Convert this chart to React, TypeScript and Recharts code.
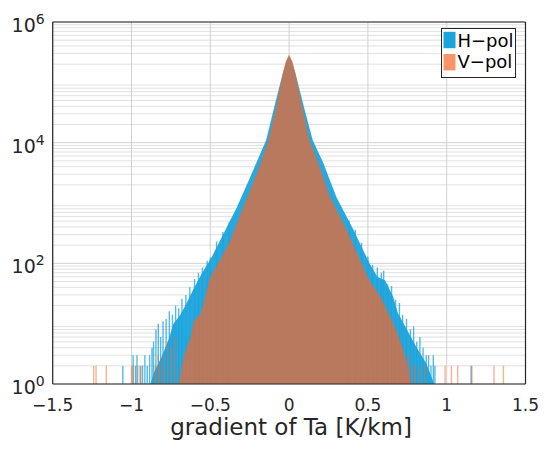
import React from 'react';
import { ComposedChart, Area, Line, XAxis, YAxis, CartesianGrid, Legend } from 'recharts';

const FONT = '"DejaVu Sans", "Liberation Sans", sans-serif';
const AXIS_COLOR = '#262626';
const H_COLOR = '#1BA3DC';
const V_COLOR = '#F6652A';
const V_SWATCH = '#F9936A';

// axis ticks
const xTicks = [-1.5, -1, -0.5, 0, 0.5, 1, 1.5];
const xTickLabels = ['\u22121.5', '\u22121', '\u22120.5', '0', '0.5', '1', '1.5'];
const yTicks = [1, 100, 10000, 1000000];
const yTickExponents = ['0', '2', '4', '6'];
const minorMantissas = [2, 3, 4, 5, 6, 7, 8, 9];
const minorDecades = [1, 10, 100, 1000, 10000, 100000];
const minorYTicks = minorDecades.flatMap((d) => minorMantissas.map((m) => m * d));

const seriesNames = ['H\u2212pol', 'V\u2212pol'];

// H-pol histogram envelope (bin centre, count)
const hBinCenters = [
  -0.88, -0.86, -0.81, -0.765, -0.734, -0.69, -0.65, -0.61, -0.554, -0.49, -0.438, -0.33, -0.237, -0.146,
  -0.093, -0.04, -0.02, 0, 0.02, 0.04, 0.093, 0.15, 0.218, 0.3, 0.41, 0.51, 0.56, 0.61, 0.66, 0.69, 0.75,
  0.81, 0.87, 0.9, 0.92,
];
const hCounts = [
  1, 1.5, 2.8, 5.4, 10, 14, 22, 36, 68, 129, 240, 870, 3090, 11000, 40000, 141000, 215000, 275000, 215000,
  141000, 40000, 11000, 4570, 1260, 355, 100, 60, 52, 28, 15, 7.8, 4, 2.2, 1.4, 1,
];

// V-pol histogram envelope (bin centre, count)
const vBinCenters = [
  -0.7, -0.69, -0.67, -0.625, -0.605, -0.56, -0.53, -0.5, -0.427, -0.374, -0.29, -0.205, -0.131, -0.082,
  -0.04, -0.02, 0, 0.02, 0.04, 0.082, 0.13, 0.186, 0.26, 0.366, 0.46, 0.51, 0.58, 0.63, 0.68, 0.72, 0.75,
  0.77,
];
const vCounts = [
  1, 1.5, 2.8, 6, 11, 15, 30, 60, 129, 240, 870, 3090, 11000, 40000, 141000, 225000, 290000, 225000, 141000,
  40000, 11000, 4570, 1260, 355, 100, 52, 28, 15, 7.8, 4, 2.2, 1,
];

// isolated / ragged tail bins (bin centre, count)
const hTailX = [
  -1.055, -0.99, -0.975, -0.965, -0.945, -0.93, -0.915, -0.9, -0.885, -0.87, -0.86, -0.845, -0.83, -0.815,
  -0.8, -0.78, -0.76, -0.74, -0.72, -0.7, -0.68, -0.655, -0.63, -0.6, -0.575, -0.55, -0.52, -0.5, -0.46, -0.42,
  -0.38, 0.38, 0.42, 0.46, 0.5, 0.53, 0.56, 0.585, 0.6, 0.625, 0.65, 0.675, 0.7, 0.72, 0.745, 0.77, 0.79,
  0.81, 0.83, 0.85, 0.87, 0.885, 0.9, 0.915, 0.925, 1.155,
];
const hTailCounts = [
  2, 3, 2, 3, 2, 2, 3, 2, 3, 4, 5, 8, 10, 6, 11, 12, 16, 14, 20, 18, 26, 30, 40, 55, 70, 85, 110, 125, 230,
  330, 480, 520, 360, 220, 130, 95, 85, 70, 75, 45, 42, 25, 22, 14, 12, 8, 9, 5, 6, 4, 3, 3, 2, 3, 2, 2,
];
const vTailX = [
  -1.24, -1.225, -1.16, -1.0, -0.99, -0.96, -0.94, -0.85, -0.83, -0.82, -0.8, -0.77, -0.745, -0.72, 0.76,
  0.78, 0.8, 0.83, 0.86, 0.99, 1.03, 1.07, 1.16, 1.3, 1.36,
];
const vTailCounts = [2, 2, 2, 2, 2, 2, 2, 2, 3, 2, 3, 5, 4, 6, 3, 2, 2, 2, 2, 2, 2, 2, 2, 2, 2];

const HIST_BASE = 1;

const toRows = (xs: number[], cs: number[]) => xs.map((x, i) => ({ x, count: cs[i] }));
const toSpikeRows = (xs: number[], cs: number[]) => {
  const rows: { x: number; count: number | null }[] = [];
  xs.forEach((x, i) => {
    rows.push({ x, count: HIST_BASE });
    rows.push({ x, count: cs[i] });
    rows.push({ x, count: null });
  });
  return rows;
};

const hRows = toRows(hBinCenters, hCounts);
const vRows = toRows(vBinCenters, vCounts);
const hSpikeRows = toSpikeRows(hTailX, hTailCounts);
const vSpikeRows = toSpikeRows(vTailX, vTailCounts);

const swatchColors: Record<string, string> = { 'H\u2212pol': H_COLOR, 'V\u2212pol': V_SWATCH };

function XTick(props: any) {
  const { x, y, payload } = props;
  const i = xTicks.indexOf(payload.value);
  return (
    <text x={x} y={y + 27} textAnchor="middle" fontSize={17} fontFamily={FONT} fill={AXIS_COLOR}>
      {i >= 0 ? xTickLabels[i] : String(payload.value)}
    </text>
  );
}

function YTick(props: any) {
  const { x, y, payload } = props;
  const i = yTicks.indexOf(payload.value);
  return (
    <text x={x} y={y + 10} textAnchor="end" fontFamily={FONT} fill={AXIS_COLOR}>
      <tspan fontSize={19}>10</tspan>
      <tspan fontSize={14} dy={-8}>
        {i >= 0 ? yTickExponents[i] : ''}
      </tspan>
    </text>
  );
}

const renderTitle = (props: any) => {
  const vb = props.viewBox || { x: 0, y: 0, width: 0, height: 0 };
  return (
    <text x={vb.x + vb.width / 2 + 2} y={vb.y + 51} textAnchor="middle" fontSize={23} fontFamily={FONT} fill={AXIS_COLOR}>
      gradient of Ta [K/km]
    </text>
  );
};

function LegendBox(props: any) {
  const payload = (props.payload || []).filter((e: any) => seriesNames.includes(e.value));
  return (
    <svg width={75} height={50} style={{ display: 'block' }}>
      <rect x={0.5} y={0.5} width={74} height={49} fill="#ffffff" stroke={AXIS_COLOR} strokeWidth={1} />
      {payload.map((e: any, i: number) => (
        <g key={e.value}>
          <rect x={2.5} y={3.8 + i * 22.2} width={12} height={16.4} fill={swatchColors[e.value]} />
          <text x={16.5} y={18.8 + i * 21.4} fontSize={18} fontFamily={FONT} fill="#000000">
            {e.value}
          </text>
        </g>
      ))}
    </svg>
  );
}

const axisLineStyle = { stroke: AXIS_COLOR, strokeWidth: 1.2 };
const tickLineStyle = { stroke: AXIS_COLOR, strokeWidth: 1 };

export default function App() {
  return (
    <div style={{ width: 534, height: 436, fontFamily: FONT }}>
      <ComposedChart width={534} height={436} margin={{ top: 14, right: 16.5, bottom: 0, left: 0 }}>
        <CartesianGrid
          xAxisId="x"
          yAxisId="y"
          vertical={false}
          horizontalValues={minorYTicks}
          stroke="#e1e1e1"
          strokeWidth={1}
        />
        <CartesianGrid
          xAxisId="x"
          yAxisId="y"
          horizontalValues={yTicks}
          verticalValues={xTicks}
          stroke="#d0d0d0"
          strokeWidth={1}
        />
        <XAxis
          xAxisId="x"
          type="number"
          dataKey="x"
          domain={[-1.5, 1.5]}
          ticks={xTicks}
          interval={0}
          allowDataOverflow
          height={60}
          tickSize={0}
          tickMargin={0}
          tickLine={false}
          axisLine={axisLineStyle}
          tick={<XTick />}
          label={renderTitle}
        />
        <XAxis
          xAxisId="xb"
          type="number"
          dataKey="x"
          domain={[-1.5, 1.5]}
          ticks={xTicks}
          interval={0}
          allowDataOverflow
          height={1}
          mirror
          tick={false}
          tickSize={5}
          tickLine={tickLineStyle}
          axisLine={false}
        />
        <XAxis
          xAxisId="xt"
          orientation="top"
          type="number"
          dataKey="x"
          domain={[-1.5, 1.5]}
          ticks={xTicks}
          interval={0}
          allowDataOverflow
          height={1}
          mirror
          tick={false}
          tickSize={5}
          tickLine={tickLineStyle}
          axisLine={axisLineStyle}
        />
        <YAxis
          yAxisId="y"
          type="number"
          scale="log"
          domain={[1, 1000000]}
          ticks={yTicks}
          interval={0}
          allowDataOverflow
          width={44.7}
          tickSize={0}
          tickMargin={8}
          tickLine={false}
          axisLine={axisLineStyle}
          tick={<YTick />}
        />
        <YAxis
          yAxisId="yl"
          type="number"
          scale="log"
          domain={[1, 1000000]}
          ticks={yTicks}
          interval={0}
          allowDataOverflow
          width={1}
          mirror
          tick={false}
          tickSize={5}
          tickLine={tickLineStyle}
          axisLine={false}
        />
        <YAxis
          yAxisId="ylm"
          type="number"
          scale="log"
          domain={[1, 1000000]}
          ticks={minorYTicks}
          interval={0}
          allowDataOverflow
          width={1}
          mirror
          tick={false}
          tickSize={3}
          tickLine={tickLineStyle}
          axisLine={false}
        />
        <YAxis
          yAxisId="yr"
          orientation="right"
          type="number"
          scale="log"
          domain={[1, 1000000]}
          ticks={yTicks}
          interval={0}
          allowDataOverflow
          width={1}
          mirror
          tick={false}
          tickSize={5}
          tickLine={tickLineStyle}
          axisLine={axisLineStyle}
        />
        <YAxis
          yAxisId="yrm"
          orientation="right"
          type="number"
          scale="log"
          domain={[1, 1000000]}
          ticks={minorYTicks}
          interval={0}
          allowDataOverflow
          width={1}
          mirror
          tick={false}
          tickSize={3}
          tickLine={tickLineStyle}
          axisLine={false}
        />
        <Area
          xAxisId="x"
          yAxisId="y"
          data={hRows}
          dataKey="count"
          name={seriesNames[0]}
          type="linear"
          baseValue={HIST_BASE}
          stroke="none"
          fill={H_COLOR}
          fillOpacity={0.95}
          isAnimationActive={false}
          zIndex={100}
        />
        <Line
          xAxisId="x"
          yAxisId="y"
          data={hSpikeRows}
          dataKey="count"
          type="linear"
          stroke={H_COLOR}
          strokeOpacity={0.75}
          strokeWidth={1.4}
          dot={false}
          activeDot={false}
          legendType="none"
          isAnimationActive={false}
          zIndex={150}
        />
        <Area
          xAxisId="x"
          yAxisId="y"
          data={vRows}
          dataKey="count"
          name={seriesNames[1]}
          type="linear"
          baseValue={HIST_BASE}
          stroke="none"
          fill={V_COLOR}
          fillOpacity={0.7}
          isAnimationActive={false}
          zIndex={200}
        />
        <Line
          xAxisId="x"
          yAxisId="y"
          data={vSpikeRows}
          dataKey="count"
          type="linear"
          stroke={V_COLOR}
          strokeOpacity={0.5}
          strokeWidth={1.4}
          dot={false}
          activeDot={false}
          legendType="none"
          isAnimationActive={false}
          zIndex={250}
        />
        <Legend
          layout="vertical"
          align="center"
          verticalAlign="middle"
          content={<LegendBox />}
          wrapperStyle={{ left: 433, top: 20, width: 75, height: 50, padding: 0, margin: 0 }}
        />
      </ComposedChart>
    </div>
  );
}
